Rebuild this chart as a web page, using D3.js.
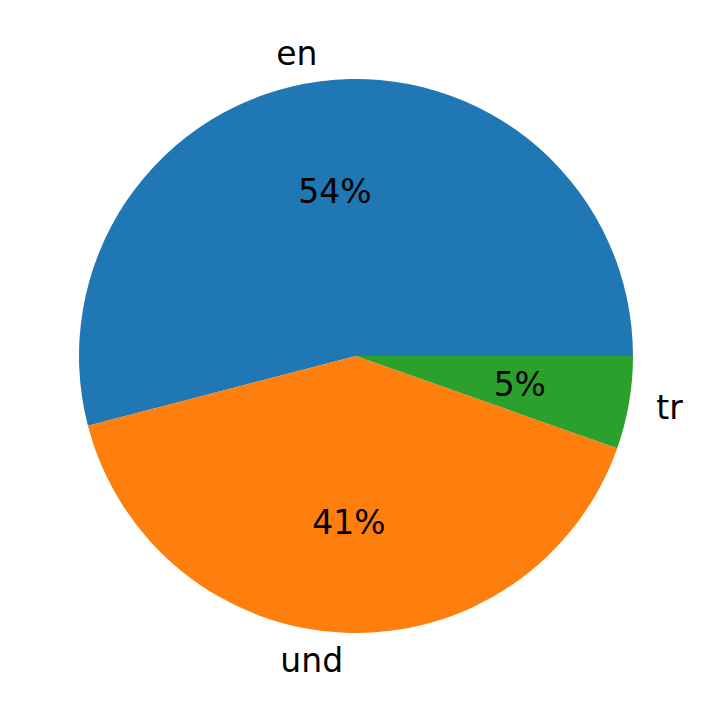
<!DOCTYPE html>
<html><head><meta charset="utf-8">
<script src="https://cdn.jsdelivr.net/npm/d3@7"></script>
<style>body{margin:0;background:#fff}</style></head>
<body><svg id="c" width="712" height="713"></svg>
<script>
const categories = ["en", "und", "tr"];
const values = [54.05, 40.55, 5.4];
const colors = ["#1f77b4", "#ff7f0e", "#2ca02c"];

const cx = 356, cy = 356, r = 277;
const svg = d3.select("#c");
const g = svg.append("g").attr("transform", `translate(${cx},${cy})`);
const data = categories.map((c, i) => ({c, v: values[i], col: colors[i]}));
const pie = d3.pie().value(d => d.v).sort(null)
  .startAngle(Math.PI / 2).endAngle(Math.PI / 2 - 2 * Math.PI);
const arcs = pie(data);
const arc = d3.arc().innerRadius(0).outerRadius(r);
g.selectAll("path").data(arcs).join("path").attr("d", arc).attr("fill", d => d.data.col);

const total = d3.sum(values);
const font = "DejaVu Sans, sans-serif";
const lab = d3.arc().innerRadius(1.1 * r).outerRadius(1.1 * r);
const pct = d3.arc().innerRadius(0.6 * r).outerRadius(0.6 * r);
g.selectAll("text.l").data(arcs).join("text").attr("class", "l")
  .attr("x", d => lab.centroid(d)[0]).attr("y", d => lab.centroid(d)[1])
  .attr("text-anchor", d => lab.centroid(d)[0] < 0 ? "end" : "start")
  .attr("dominant-baseline", "central")
  .style("font-family", font).style("font-size", "33px")
  .text(d => d.data.c);
g.selectAll("text.p").data(arcs).join("text").attr("class", "p")
  .attr("x", d => pct.centroid(d)[0]).attr("y", d => pct.centroid(d)[1])
  .attr("text-anchor", "middle").attr("dominant-baseline", "central")
  .style("font-family", font).style("font-size", "33px")
  .text(d => Math.round(d.data.v / total * 100) + "%");
</script></body></html>
